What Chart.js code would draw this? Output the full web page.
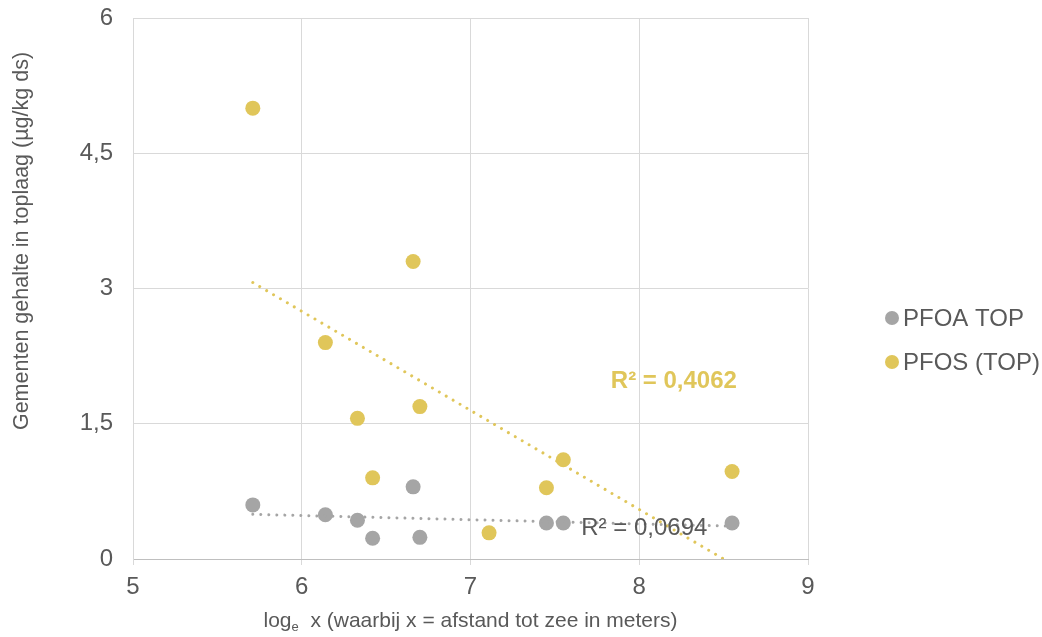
<!DOCTYPE html>
<html>
<head>
<meta charset="utf-8">
<script src="https://cdn.jsdelivr.net/npm/chart.js@4.4.1/dist/chart.umd.min.js"></script>
<style>
  body { margin: 0; background: #fff; }
  #wrap { width: 1042px; height: 637px; position: relative; }
</style>
</head>
<body>
<div id="wrap"><canvas id="scatterchart"></canvas></div>
<script>
// Data
const pfoaX = [5.71, 6.14, 6.33, 6.42, 6.66, 6.70, 7.45, 7.55, 8.55];
const pfoaY = [0.60, 0.49, 0.43, 0.23, 0.80, 0.24, 0.40, 0.40, 0.40];
const pfosX = [5.71, 6.66, 6.14, 6.33, 6.70, 6.42, 7.55, 7.45, 7.11, 8.55];
const pfosY = [5.00, 3.30, 2.40, 1.56, 1.69, 0.90, 1.10, 0.79, 0.29, 0.97];
const xTicks = [5, 6, 7, 8, 9];
const yTicks = [0, 1.5, 3, 4.5, 6];
const seriesNames = ['PFOA TOP', 'PFOS (TOP)'];
const r2Labels = ['R² = 0,0694', 'R² = 0,4062'];
const yTitle = 'Gementen gehalte in toplaag (µg/kg ds)';

const grey = '#A5A5A5';
const gold = '#E0C65A';
const textColor = '#595959';
const font = '"Liberation Sans", Arial, sans-serif';

function toPoints(xs, ys) {
  return xs.map((x, i) => ({ x: x, y: ys[i] }));
}

// least squares trendline over the data range
function trend(xs, ys) {
  const n = xs.length;
  const mx = xs.reduce((a, b) => a + b, 0) / n;
  const my = ys.reduce((a, b) => a + b, 0) / n;
  let sxy = 0, sxx = 0;
  for (let i = 0; i < n; i++) {
    sxy += (xs[i] - mx) * (ys[i] - my);
    sxx += (xs[i] - mx) * (xs[i] - mx);
  }
  const b = sxy / sxx;
  const a = my - b * mx;
  const x0 = Math.min(...xs), x1 = Math.max(...xs);
  return [{ x: x0, y: a + b * x0 }, { x: x1, y: a + b * x1 }];
}

const fmt = v => v.toString().replace('.', ',');

// R² labels, legend and axis titles (x title has a subscript e)
const extraText = {
  id: 'extraText',
  afterDatasetsDraw(chart) {
    const ctx = chart.ctx;
    const xs = chart.scales.x, ys = chart.scales.y;
    ctx.save();
    ctx.textAlign = 'center';
    ctx.textBaseline = 'middle';
    ctx.font = '24px ' + font;
    ctx.fillStyle = textColor;
    ctx.fillText(r2Labels[0], xs.getPixelForValue(8.03), ys.getPixelForValue(0.345));
    ctx.font = 'bold 24px ' + font;
    ctx.fillStyle = gold;
    ctx.fillText(r2Labels[1], xs.getPixelForValue(8.205), ys.getPixelForValue(1.975));
    ctx.restore();
  },
  afterDraw(chart) {
    const ctx = chart.ctx;
    const xs = chart.scales.x;
    ctx.save();

    // legend
    const area = chart.chartArea;
    const colors = [grey, gold];
    ctx.font = '24px ' + font;
    ctx.textBaseline = 'middle';
    ctx.textAlign = 'left';
    seriesNames.forEach((name, i) => {
      const cy = 318 + i * 44;
      const cx = area.right + 84;
      ctx.beginPath();
      ctx.arc(cx, cy, 7, 0, Math.PI * 2);
      ctx.fillStyle = colors[i];
      ctx.fill();
      ctx.fillStyle = textColor;
      ctx.fillText(name, cx + 11, cy + 1);
    });

    // y axis title
    ctx.save();
    ctx.translate(22, 241);
    ctx.rotate(-Math.PI / 2);
    ctx.textAlign = 'center';
    ctx.textBaseline = 'middle';
    ctx.font = '21.5px ' + font;
    ctx.fillStyle = textColor;
    ctx.fillText(yTitle, 0, 0);
    ctx.restore();

    // x axis title
    ctx.fillStyle = textColor;
    ctx.textBaseline = 'alphabetic';
    ctx.textAlign = 'left';
    const big = '21px ' + font, small = '13px ' + font;
    const rest = '  x (waarbij x = afstand tot zee in meters)';
    ctx.font = big;
    const w1 = ctx.measureText('log').width, w3 = ctx.measureText(rest).width;
    ctx.font = small;
    const w2 = ctx.measureText('e').width;
    const total = w1 + w2 + w3;
    const x = (xs.left + xs.right) / 2 - total / 2;
    const y = 627;
    ctx.font = big;
    ctx.fillText('log', x, y);
    ctx.font = small;
    ctx.fillText('e', x + w1, y + 4);
    ctx.font = big;
    ctx.fillText(rest, x + w1 + w2, y);
    ctx.restore();
  }
};

const ctx = document.getElementById('scatterchart');
new Chart(ctx, {
  type: 'scatter',
  data: {
    datasets: [
      {
        label: seriesNames[0],
        data: toPoints(pfoaX, pfoaY),
        backgroundColor: grey,
        borderWidth: 0,
        pointRadius: 7.5,
        order: 3
      },
      {
        label: seriesNames[1],
        data: toPoints(pfosX, pfosY),
        backgroundColor: gold,
        borderWidth: 0,
        pointRadius: 7.5,
        order: 2
      },
      {
        label: 'trend PFOA',
        type: 'line',
        data: trend(pfoaX, pfoaY),
        borderColor: grey,
        borderWidth: 3,
        borderDash: [0.01, 8],
        borderCapStyle: 'round',
        pointRadius: 0,
        order: 1
      },
      {
        label: 'trend PFOS',
        type: 'line',
        data: trend(pfosX, pfosY),
        borderColor: gold,
        borderWidth: 3,
        borderDash: [0.01, 8],
        borderCapStyle: 'round',
        pointRadius: 0,
        order: 0
      }
    ]
  },
  options: {
    responsive: true,
    maintainAspectRatio: false,
    animation: false,
    layout: { padding: { top: 18, right: 234, left: 0, bottom: 0 } },
    plugins: {
      legend: { display: false },
      tooltip: { enabled: false }
    },
    scales: {
      x: {
        type: 'linear',
        min: xTicks[0],
        max: xTicks[xTicks.length - 1],
        afterBuildTicks: s => { s.ticks = xTicks.map(v => ({ value: v })); },
        afterFit: s => { s.height = 78; s.paddingLeft = 0; s.paddingRight = 0; },
        grid: { color: '#D9D9D9', tickLength: 6, drawTicks: true },
        border: { color: '#BFBFBF' },
        ticks: { color: textColor, font: { size: 24, family: font }, padding: 8, callback: fmt }
      },
      y: {
        type: 'linear',
        min: yTicks[0],
        max: yTicks[yTicks.length - 1],
        afterBuildTicks: s => { s.ticks = yTicks.map(v => ({ value: v })); },
        afterFit: s => { s.width = 133; s.paddingTop = 0; s.paddingBottom = 0; },
        grid: { color: '#D9D9D9', drawTicks: false },
        border: { color: '#D9D9D9' },
        ticks: { color: textColor, font: { size: 24, family: font }, padding: 20, callback: fmt }
      }
    }
  },
  plugins: [extraText]
});
</script>
</body>
</html>
